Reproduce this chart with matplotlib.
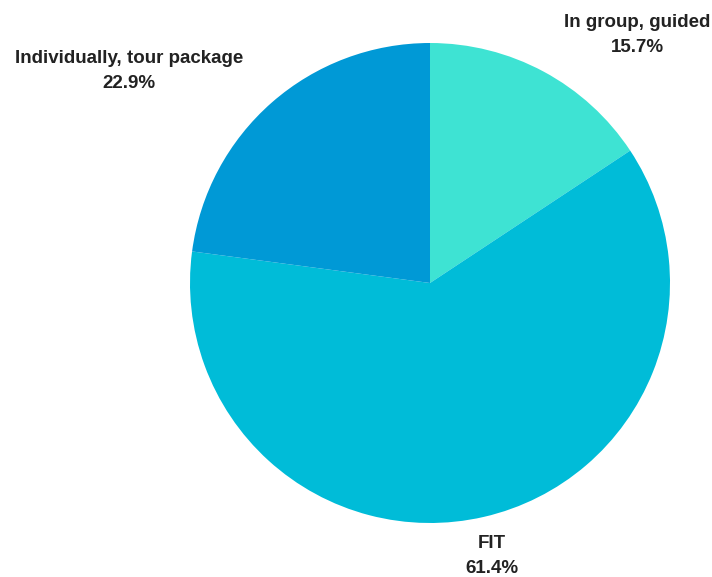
import matplotlib
matplotlib.use("Agg")
import matplotlib.pyplot as plt

categories = ["In group, guided", "FIT", "Individually, tour package"]
values = [15.7, 61.4, 22.9]
colors = ["#3ee3d3", "#00bcd8", "#0099d6"]

W, H = 712, 577
fig = plt.figure(figsize=(W / 100, H / 100), dpi=100)
ax = fig.add_axes([0, 0, 1, 1])

cx, cy, r = 430, H - 283, 240
ax.pie(values, colors=colors, startangle=90, counterclock=False,
       center=(cx, cy), radius=r, frame=True,
       wedgeprops=dict(linewidth=0))
ax.set_xlim(0, W)
ax.set_ylim(0, H)
ax.set_aspect("equal")
ax.axis("off")

label_pos = [(637, 35), (492, 556), (129, 71)]
for name, v, (x, y) in zip(categories, values, label_pos):
    ax.text(x, H - y, f"{name}\n{v:.1f}%", ha="center", va="center",
            fontsize=13.5, fontweight="bold", family="Liberation Sans",
            color="#222222", linespacing=1.6)

fig.savefig("out.png", dpi=100)
